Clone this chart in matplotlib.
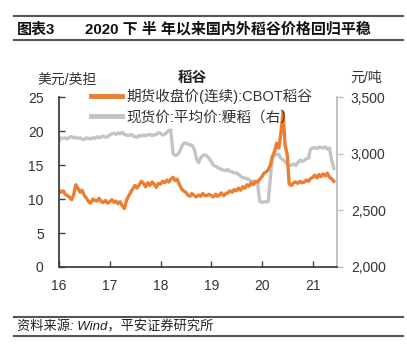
import matplotlib
matplotlib.use("Agg")
import matplotlib.pyplot as plt
from matplotlib.lines import Line2D
import pandas as pd

plt.rcParams['font.family'] = ['Liberation Sans', 'Noto Sans CJK SC']

title_label = "图表3"
title_text = "2020 下 半 年以来国内外稻谷价格回归平稳"
chart_title = "稻谷"
source_text = "资料来源: Wind，平安证券研究所"
left_unit = "美元/英担"
right_unit = "元/吨"
series_names = ["期货收盘价(连续):CBOT稻谷", "现货价:平均价:粳稻（右）"]

start_date = "2016-01-01"
end_date = "2021-06-01"

cbot = [
    # 2016
    11.3, 11.0, 11.2, 10.7, 10.5, 10.3, 9.9, 10.6, 12.1, 11.6, 11.0, 11.3,
    10.5, 10.2, 9.6, 9.4, 10.0, 9.8, 9.7, 10.1, 9.6, 9.5, 9.8, 9.4,
    # 2017
    9.6, 9.9, 9.5, 9.7, 9.3, 9.6, 9.0, 8.6, 9.8, 10.4, 11.0, 11.5,
    12.0, 11.6, 12.1, 12.6, 12.3, 11.8, 12.4, 12.0, 12.5, 12.2, 11.7, 12.3,
    # 2018
    12.2, 12.6, 12.4, 12.8, 12.5, 12.9, 13.2, 12.7, 12.9, 12.2, 11.5, 11.2,
    11.0, 10.6, 10.4, 10.8, 10.5, 10.3, 10.6, 10.4, 10.8, 10.5, 10.5, 10.7,
    # 2019
    10.5, 10.3, 10.7, 10.4, 10.6, 10.9, 10.5, 10.8, 10.9, 11.2, 11.0, 11.4,
    11.2, 11.6, 11.3, 11.8, 11.6, 12.1, 11.9, 12.4, 12.1, 12.6, 12.5, 12.9,
    # 2020
    13.3, 13.8, 14.0, 14.3, 15.0, 16.2, 17.0, 18.2, 17.5, 19.5, 22.8, 18.0,
    16.5, 12.2, 12.0, 12.4, 12.5, 12.3, 12.6, 12.4, 12.5, 12.8, 12.6, 13.0,
    # 2021
    13.2, 13.5, 13.1, 13.6, 13.3, 13.7, 13.4, 13.8, 13.2, 13.0, 12.6,
]

spot = [
    # 2016
    3110, 3140, 3135, 3140, 3130, 3145, 3150, 3140, 3145, 3135, 3140, 3130,
    3125, 3140, 3135, 3130, 3140, 3135, 3150, 3140, 3150, 3155, 3145, 3150,
    # 2017
    3165, 3175, 3180, 3170, 3185, 3175, 3190, 3170, 3165, 3160, 3170, 3160,
    3150, 3145, 3160, 3155, 3165, 3160, 3165, 3170, 3160, 3165, 3170, 3185,
    # 2018
    3180, 3165, 3170, 3190, 3205, 3210, 3000, 2985, 2990, 3010, 3060, 3090,
    3095, 3085, 3080, 3075, 3040, 2960, 2920, 2960, 2985, 2990, 2980, 2960,
    # 2019
    2930, 2900, 2890, 2880, 2870, 2860, 2855, 2850, 2860, 2845, 2840, 2830,
    2830, 2820, 2800, 2790, 2785, 2780, 2770, 2760, 2755, 2750, 2740, 2580,
    # 2020
    2570, 2575, 2575, 2580, 2780, 2950, 3000, 2990, 2995, 2960, 2945, 2930,
    2905, 2895, 2900, 2910, 2895, 2920, 2945, 2930, 2940, 2955, 2960, 3040,
    # 2021
    3050, 3055, 3045, 3060, 3055, 3050, 3060, 3040, 3050, 2950, 2870,
]

left_ticks = [0, 5, 10, 15, 20, 25]
right_ticks = [2000, 2500, 3000, 3500]
right_tick_labels = ["2,000", "2,500", "3,000", "3,500"]
x_tick_years = [2016, 2017, 2018, 2019, 2020, 2021]
x_tick_labels = ["16", "17", "18", "19", "20", "21"]

dates = pd.date_range(start_date, end_date, freq="SMS")
assert len(dates) == len(cbot) == len(spot)

ORANGE = "#ED7D31"
GREY = "#C4C4C4"
DARK = "#404040"

fig = plt.figure(figsize=(4.07, 3.54), dpi=100)
ax = fig.add_axes([0.145, 0.2458, 0.683, 0.480])
ax2 = ax.twinx()

l2, = ax2.plot(dates, spot, color=GREY, lw=2.4, solid_joinstyle="round")
l1, = ax.plot(dates, cbot, color=ORANGE, lw=2.4, solid_joinstyle="round")
ax.set_zorder(ax2.get_zorder() + 1)
ax.patch.set_visible(False)

ax.set_ylim(0, 25)
ax2.set_ylim(2000, 3500)
ax.set_xlim(pd.Timestamp("2016-01-01"), pd.Timestamp("2021-06-24"))

ax.set_yticks(left_ticks)
ax.set_yticklabels([str(v) for v in left_ticks])
ax2.set_yticks(right_ticks)
ax2.set_yticklabels(right_tick_labels)
ax.set_xticks([pd.Timestamp(f"{y}-01-01") for y in x_tick_years])
ax.set_xticklabels(x_tick_labels)

for a in (ax, ax2):
    a.spines["top"].set_visible(False)
ax.spines["right"].set_visible(False)
ax2.spines["left"].set_visible(False)
ax2.spines["bottom"].set_visible(False)
ax.spines["left"].set_color(DARK)
ax.spines["bottom"].set_color(DARK)
ax.spines["left"].set_linewidth(1.3)
ax.spines["bottom"].set_linewidth(1.3)
ax2.spines["right"].set_color("#BFBFBF")
ax2.spines["right"].set_linewidth(1.3)

ax.tick_params(axis="y", direction="in", length=4, width=1, color=DARK,
               labelsize=10, labelcolor="#333333", pad=11)
ax.tick_params(axis="x", direction="in", length=4, width=1, color=DARK,
               labelsize=10, labelcolor="#333333", pad=9)
ax2.tick_params(axis="y", direction="out", length=4, width=1, color="#BFBFBF",
                labelsize=10, labelcolor="#333333", pad=6)

fig.text(67 / 407, 1 - 80 / 354, left_unit, ha="center", va="center",
         fontsize=10, color="#333333")
fig.text(366 / 407, 1 - 78 / 354, right_unit, ha="center", va="center",
         fontsize=10, color="#333333")
fig.text(192 / 407, 1 - 78 / 354, chart_title, ha="center", va="center",
         fontsize=10.5, fontweight="bold", color="#222222")

leg = fig.legend([l1, l2], series_names, loc="upper left",
                 bbox_to_anchor=(91 / 407, 1 - 89 / 354), frameon=False,
                 fontsize=10.5, handlelength=2.1, handletextpad=0.35,
                 labelspacing=0.4, borderpad=0, borderaxespad=0)
for t in leg.get_texts():
    t.set_color("#333333")
for h in leg.legend_handles:
    h.set_linewidth(3.5)

# title bar and rules
rule_color = "#555555"
for y in (16, 40, 317, 336):
    fig.add_artist(Line2D([14 / 407, 403 / 407], [1 - y / 354, 1 - y / 354],
                          transform=fig.transFigure, color=rule_color, lw=1.5))
fig.text(17 / 407, 1 - 29 / 354, title_label, ha="left", va="center",
         fontsize=10.8, fontweight="bold", color="#111111")
fig.text(85 / 407, 1 - 29 / 354, title_text, ha="left", va="center",
         fontsize=10.8, fontweight="bold", color="#111111")
fig.text(17 / 407, 1 - 327 / 354, source_text, ha="left", va="center",
         fontsize=9.5, color="#222222", style="italic")

fig.savefig("out.png", dpi=100)
